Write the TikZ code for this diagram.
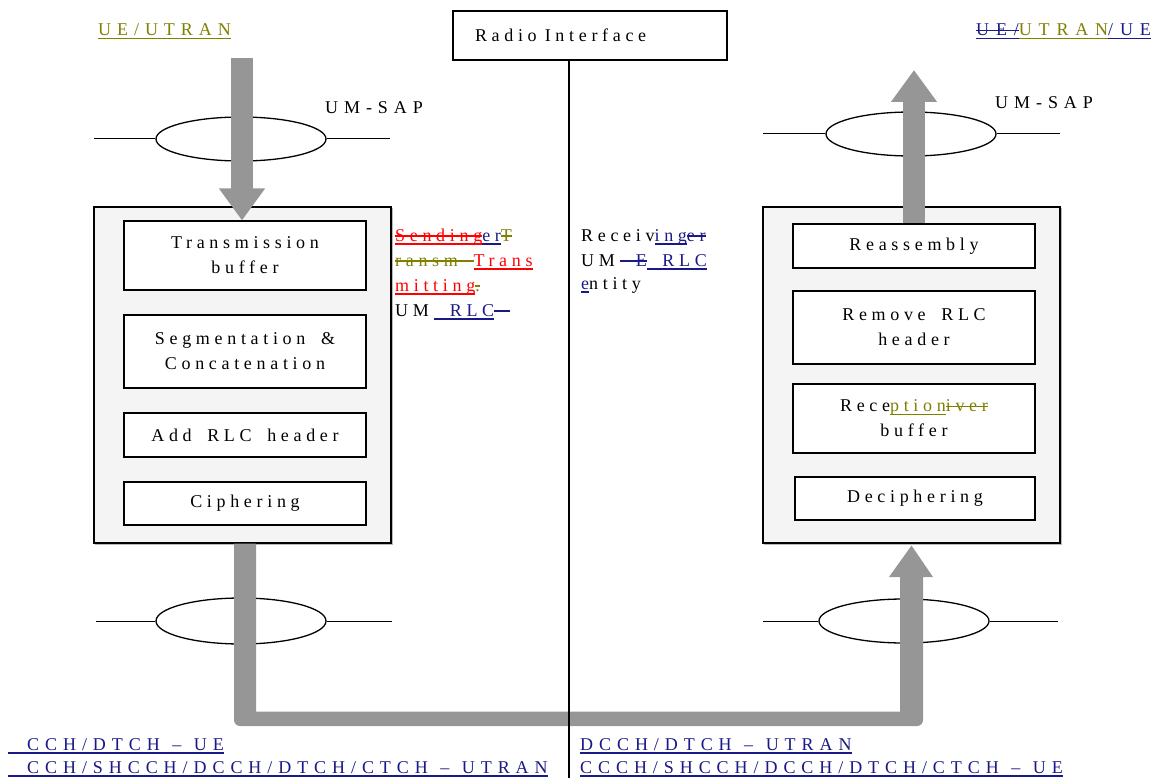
\documentclass[tikz,border=0pt]{standalone}
\usepackage{fontspec}
\setmainfont{Liberation Serif}[LetterSpace=26, WordSpace=1.7]
\newfontfamily\capsfont{Liberation Serif}[LetterSpace=33, WordSpace=1.2]
\newfontfamily\widecapsfont{Liberation Serif}[LetterSpace=38, WordSpace=1.2]
\usetikzlibrary{shapes.geometric,arrows.meta,calc}

\definecolor{navyb}{RGB}{25,25,135}
\definecolor{olivec}{RGB}{128,128,0}
\definecolor{redc}{RGB}{255,0,0}
\definecolor{pipegray}{RGB}{150,150,150}
\definecolor{panelfill}{RGB}{244,244,244}

% revision marks: underline, strike-out, both (rule takes the current colour)
\newcommand\revul[1]{\sbox0{#1}\rlap{\rule[-3.5pt]{\wd0}{1.1pt}}\usebox0}
\newcommand\revst[1]{\sbox0{#1}\rlap{\rule[4.5pt]{\wd0}{1.1pt}}\usebox0}
\newcommand\revulst[1]{\sbox0{#1}\rlap{\rule[-3.5pt]{\wd0}{1.1pt}}\rlap{\rule[4.5pt]{\wd0}{1.1pt}}\usebox0}

\begin{document}
\begin{tikzpicture}[x=1pt,y=-1pt,
  every node/.style={font=\fontsize{18}{25}\selectfont},
  box/.style={draw, line width=1.1pt, fill=white, inner sep=0, align=center},
  panel/.style={draw, line width=1.1pt, fill=panelfill, inner sep=0,
    preaction={draw=gray!55, line width=1.1pt, transform canvas={xshift=1.6pt,yshift=-1.6pt}}},
  sap/.style={draw, ellipse, line width=1.3pt, minimum width=170pt, minimum height=44pt, inner sep=0},
  wire/.style={line width=1pt},
  pipe/.style={draw=pipegray, line width=22pt},
  flow/.style={pipe, -{Triangle[width=44pt,length=32pt]}},
  lbl/.style={anchor=base west, inner sep=0},
  caplbl/.style={lbl, font=\capsfont\fontsize{18}{25}\selectfont}]

\path[use as bounding box] (0,0) rectangle (1164,778);

% radio interface and the boundary line
\node[draw, line width=1.1pt, minimum height=49pt, text width=230pt, inner xsep=22pt, inner ysep=0, align=left] (radio) at (590,35.5) {Radio\hspace{0.45em}Interface};

% transmitting side
\node[panel, minimum width=297pt, minimum height=336pt] (lout) at (242.5,375) {};
\node[box, minimum width=242pt, minimum height=69pt] (tb) at (245,255.5) {Transmission\\buffer};
\node[box, minimum width=242pt, minimum height=73pt] (seg) at (245,351.5) {Segmentation \&\\Concatenation};
\node[box, minimum width=242pt, minimum height=44pt] (add) at (245,435) {Add RLC header};
\node[box, minimum width=242pt, minimum height=43pt] (cip) at (245,503.5) {Ciphering};

% receiving side
\node[panel, minimum width=297pt, minimum height=336pt] (rout) at (911.5,375) {};
\node[box, minimum width=242pt, minimum height=44pt] (reas) at (914,246) {Reassembly};
\node[box, minimum width=242pt, minimum height=73pt] (rem) at (914,327.5) {Remove RLC\\header};
\node[box, minimum width=242pt, minimum height=69pt] (recb) at (914,418.5) {Rece{\color{olivec}\revul{ption}\revst{iver}}\\buffer};
\node[box, minimum width=240pt, minimum height=43pt] (deci) at (915,498.5) {Deciphering};

% service access points
\node[sap] (sapLT) at (241,139) {};
\node[sap] (sapRT) at (911,134) {};
\node[sap, minimum height=46pt] (sapLB) at (241,621) {};
\node[sap] (sapRB) at (904,621) {};
\coordinate (wLT1) at (94,139);  \coordinate (wLT2) at (390,139);
\coordinate (wRT1) at (763,134); \coordinate (wRT2) at (1060,134);
\coordinate (wLB1) at (96,621);  \coordinate (wLB2) at (392,621);
\coordinate (wRB1) at (763,621); \coordinate (wRB2) at (1058,621);
\draw[wire] (wLT1) -- (sapLT.west) (sapLT.east) -- (wLT2);
\draw[wire] (wRT1) -- (sapRT.west) (sapRT.east) -- (wRT2);
\draw[wire] (wLB1) -- (sapLB.west) (sapLB.east) -- (wLB2);
\draw[wire] (wRB1) -- (sapRB.west) (sapRB.east) -- (wRB2);

% data flow
\coordinate (dnstart) at (242,58);
\draw[flow] (dnstart) -- (dnstart |- tb.north);
\coordinate (uptip) at (914,70);
\draw[flow] (reas.north -| uptip) -- (uptip);
% transport path: down from the sender, along the bottom, up into the receiver
\fill[pipegray] (lout.south -| 234,0) [rounded corners=6pt] -- (234,726) -- (923,726)
  [sharp corners] -- (923,577) -- (933,577) -- ($(rout.south)+(0,2)$) -- (889,577) -- (900,577)
  -- (900,711.5) -- (256,711.5) -- (lout.south -| 256,0) -- cycle;

\coordinate (ritop) at (569,60);
\coordinate (ribot) at (569,778);
\draw[line width=1.1pt] (ritop) -- (ribot);

% labels
\node[caplbl, text=olivec] (ueL) at (98,36) {\revul{UE/UTRAN}};
\node[caplbl, font=\widecapsfont\fontsize{18}{25}\selectfont] (ueR) at (976,36) {\color{navyb}\revulst{UE/}\color{olivec}\revul{UTRAN}\color{navyb}\revul{/UE}};
\node[caplbl] (sapLtxt) at (325,114) {UM-SAP};
\node[caplbl] (sapRtxt) at (995,109) {UM-SAP};

\node[lbl] (sendA) at (395,241) {{\color{redc}\revulst{Sending}}{\color{navyb}\revul{er}}{\color{olivec}\revst{T}}};
\node[lbl] (sendB) at (395,266) {{\color{olivec}\revst{ransm\ }}{\color{redc}\revul{Trans}}};
\node[lbl] (sendC) at (395,291) {{\color{redc}\revul{mitting}}{\color{olivec}\revst{.}}};
\node[lbl] (sendD) at (395,316) {UM\hspace{0.3em}{\color{navyb}\revul{\ RLC}\revst{\ }}};

\node[lbl] (recvA) at (581,241) {Receiv{\color{navyb}\revul{ing}\revst{er}}};
\node[lbl] (recvB) at (581,266) {UM\hspace{0.3em}{\color{navyb}\revst{\ E}\revul{\ RLC}}};
\node[lbl] (recvC) at (581,289) {{\color{navyb}\revul{e}}ntity};

\node[caplbl, text=navyb] (chLA) at (8,750) {\revul{\hspace*{19pt}CCH/DTCH – UE}};
\node[caplbl, text=navyb] (chLB) at (8,773) {\revul{\hspace*{19pt}CCH/SHCCH/DCCH/DTCH/CTCH – UTRAN}};
\node[caplbl, text=navyb] (chRA) at (580,750) {\revul{DCCH/DTCH – UTRAN}};
\node[caplbl, text=navyb] (chRB) at (580,773) {\revul{CCCH/SHCCH/DCCH/DTCH/CTCH – UE}};
\end{tikzpicture}
\end{document}
